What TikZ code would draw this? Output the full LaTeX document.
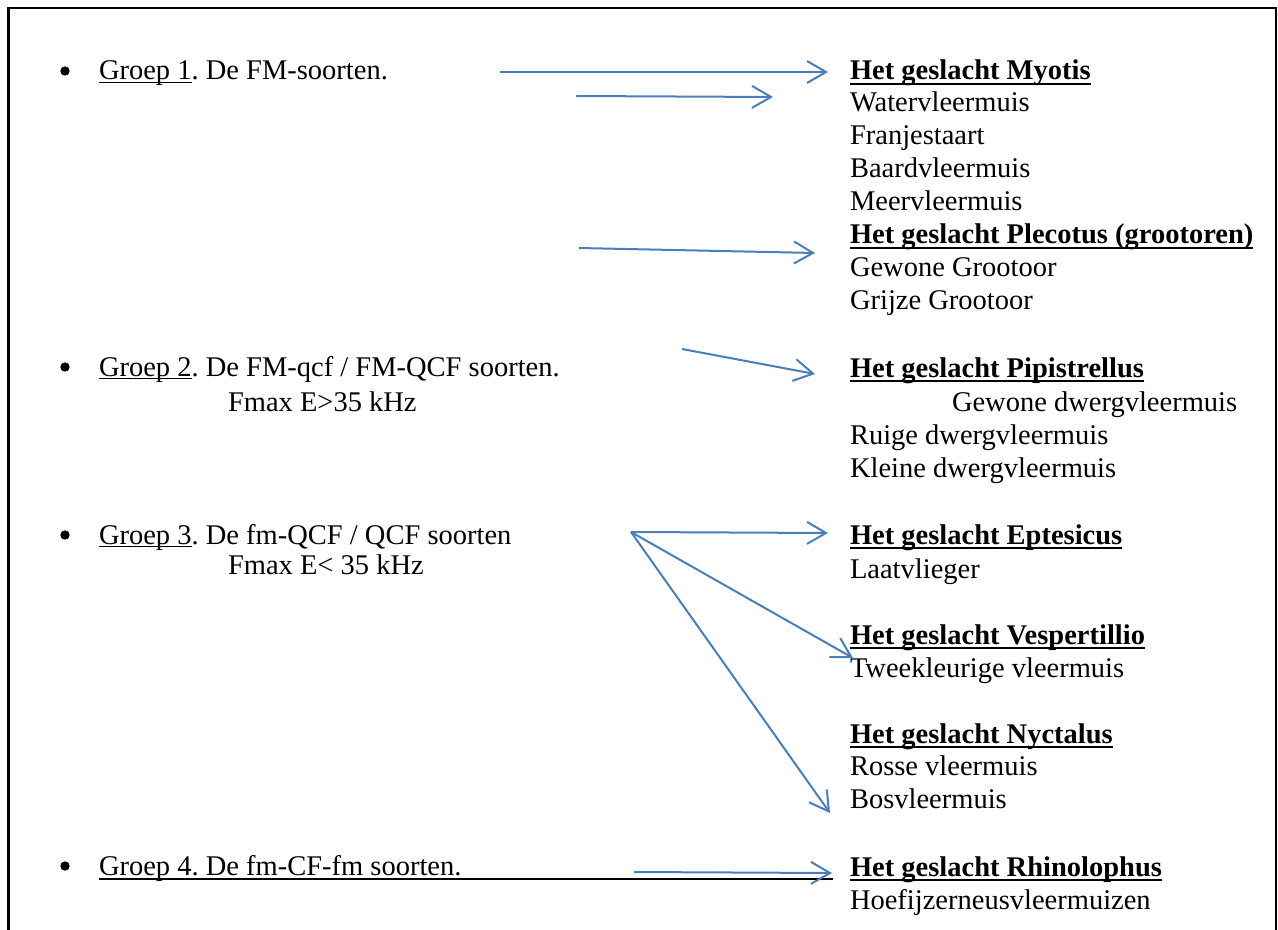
\documentclass[tikz,border=0pt]{standalone}
\usepackage{fontspec}
\setmainfont{Liberation Serif}
\usetikzlibrary{arrows.meta}
\definecolor{arrowblue}{RGB}{74,126,187}
\frenchspacing
\begin{document}
\begin{tikzpicture}[x=0.5pt,y=-0.5pt,
  txt/.style={anchor=base west,inner sep=0pt,outer sep=0pt,font=\fontsize{14.25}{17}\selectfont\frenchspacing},
  head/.style={txt,font=\fontsize{14.25}{17}\selectfont\frenchspacing\bfseries},
  bul/.style={circle,fill=black,inner sep=0pt,minimum size=4.7pt},
  conn/.style={draw=arrowblue,line width=1pt,-{Straight Barb[length=9.5pt,width=11pt]}},
  gul/.style={line width=0.6pt},
  hul/.style={line width=1.25pt},
  frame/.style={line width=1.3pt}]
\useasboundingbox (0,0) rectangle (1278,930);
\clip (0,0) rectangle (1278,930);
% frame
\coordinate (fbl) at (8.5,1000);
\coordinate (ftr) at (1276,8);
\coordinate (fbr) at (1276,1000);
\draw[frame] (fbl) |- (ftr) -- (fbr);

\begin{scope}[yshift=-1pt]
% left column
\node[bul] (b1) at (65,69) {};
\node[txt] (g1u) at (99,78) {Groep 1};
\node[txt] (g1t) at (g1u.base east) {. De FM-soorten.};
\draw[gul] ([yshift=-1.3pt]g1u.base west) -- ([yshift=-1.3pt]g1u.base east);

\node[bul] (b2) at (65,365) {};
\node[txt] (g2u) at (99,374) {Groep 2};
\node[txt] (g2t) at (g2u.base east) {. De FM-qcf / FM-QCF soorten.};
\draw[gul] ([yshift=-1.3pt]g2u.base west) -- ([yshift=-1.3pt]g2u.base east);
\node[txt] (g2f) at (228,409) {Fmax E>35 kHz};

\node[bul] (b3) at (65,533) {};
\node[txt] (g3u) at (99,542) {Groep 3};
\node[txt] (g3t) at (g3u.base east) {. De fm-QCF / QCF soorten};
\draw[gul] ([yshift=-1.3pt]g3u.base west) -- ([yshift=-1.3pt]g3u.base east);
\node[txt] (g3f) at (228,572) {Fmax E< 35 kHz};

\node[bul] (b4) at (65,864) {};
\node[txt] (g4) at (99,873) {Groep 4. De fm-CF-fm soorten.};
\coordinate (g4s) at (99,877);
\coordinate (g4e) at (833,877);
\draw[hul] (g4s) -- (g4e);

% right column
\node[head] (hmy) at (850,78) {Het geslacht Myotis};
\node[txt] (m1) at (850,110) {Watervleermuis};
\node[txt] (m2) at (850,143) {Franjestaart};
\node[txt] (m3) at (850,176) {Baardvleermuis};
\node[txt] (m4) at (850,209) {Meervleermuis};
\node[head] (hpl) at (850,242) {Het geslacht Plecotus (grootoren)};
\node[txt] (p1) at (850,275) {Gewone Grootoor};
\node[txt] (p2) at (850,308) {Grijze Grootoor};

\node[head] (hpi) at (850,375) {Het geslacht Pipistrellus};
\node[txt] (pi1) at (952,409) {Gewone dwergvleermuis};
\node[txt] (pi2) at (850,442) {Ruige dwergvleermuis};
\node[txt] (pi3) at (850,475) {Kleine dwergvleermuis};

\node[head] (hep) at (850,542) {Het geslacht Eptesicus};
\node[txt] (e1) at (850,576) {Laatvlieger};
\node[head] (hve) at (850,642) {Het geslacht Vespertillio};
\node[txt] (v1) at (850,675) {Tweekleurige vleermuis};
\node[head] (hny) at (850,741) {Het geslacht Nyctalus};
\node[txt] (n1) at (850,773) {Rosse vleermuis};
\node[txt] (n2) at (850,806) {Bosvleermuis};
\node[head] (hrh) at (850,874) {Het geslacht Rhinolophus};
\node[txt] (r1) at (850,907) {Hoefijzerneusvleermuizen};

\foreach \h in {hmy,hpl,hpi,hep,hve,hny,hrh}
  \draw[hul] ([yshift=-2pt]\h.base west) -- ([yshift=-2pt]\h.base east);
\end{scope}

% arrows
\coordinate (a1s) at (500,72);
\coordinate (a1e) at (828,72);
\coordinate (a2s) at (576,96);
\coordinate (a2e) at (773,97);
\coordinate (a3s) at (579,248);
\coordinate (a3e) at (815,253);
\coordinate (a4s) at (682,349);
\coordinate (a4e) at (815,374);
\coordinate (a5s) at (631,532);
\coordinate (a5e) at (828,533);
\coordinate (a6e) at (853,658);
\coordinate (a7e) at (830,813);
\coordinate (a8s) at (634,872);
\coordinate (a8e) at (832,873);
\draw[conn] (a1s) -- (a1e);
\draw[conn] (a2s) -- (a2e);
\draw[conn] (a3s) -- (a3e);
\draw[conn] (a4s) -- (a4e);
\draw[conn] (a5s) -- (a5e);
\draw[conn] (a5s) -- (a6e);
\draw[conn] (a5s) -- (a7e);
\draw[conn] (a8s) -- (a8e);
\end{tikzpicture}
\end{document}
